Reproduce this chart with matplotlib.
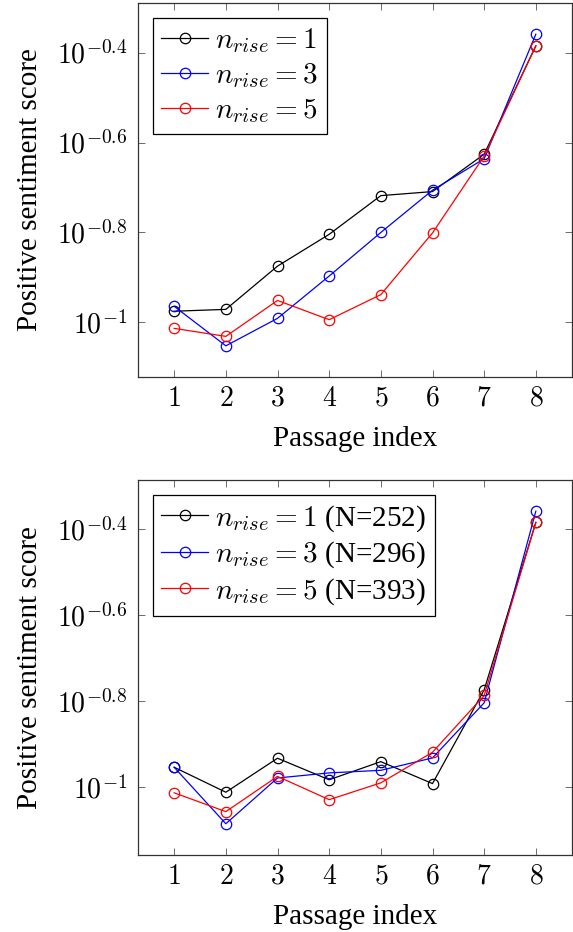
import numpy as np
import matplotlib
matplotlib.use('Agg')
import matplotlib.pyplot as plt
from matplotlib.ticker import FixedLocator, FixedFormatter, NullLocator

plt.rcParams['font.family'] = ['Liberation Serif', 'DejaVu Serif']
plt.rcParams['mathtext.fontset'] = 'cm'

passage = [1, 2, 3, 4, 5, 6, 7, 8]

# top panel
top_rise1 = [0.1059, 0.1069, 0.1334, 0.1570, 0.1914, 0.1954, 0.2366, 0.4121]
top_rise3 = [0.1086, 0.0887, 0.1021, 0.1268, 0.1585, 0.1968, 0.2312, 0.4375]
top_rise5 = [0.0970, 0.0931, 0.1119, 0.1014, 0.1153, 0.1581, 0.2344, 0.4121]

# bottom panel
bot_rise1 = [0.1112, 0.0973, 0.1167, 0.1040, 0.1146, 0.1019, 0.1683, 0.4121]
bot_rise3 = [0.1112, 0.0822, 0.1050, 0.1079, 0.1094, 0.1169, 0.1570, 0.4375]
bot_rise5 = [0.0970, 0.0877, 0.1059, 0.0935, 0.1023, 0.1205, 0.1633, 0.4121]

top_labels = [r'$n_{rise}=1$', r'$n_{rise}=3$', r'$n_{rise}=5$']
bot_labels = [r'$n_{rise}=1$ (N=252)', r'$n_{rise}=3$ (N=296)', r'$n_{rise}=5$ (N=393)']
colors = ['black', 'blue', 'red']

ytick_vals = [10**-1, 10**-0.8, 10**-0.6, 10**-0.4]
ytick_text = [r'$10^{-1}$', r'$10^{-0.8}$', r'$10^{-0.6}$', r'$10^{-0.4}$']

W, H = 573, 932
fig = plt.figure(figsize=(W/100, H/100), dpi=100)
ax1 = fig.add_axes([138/W, 1-377/H, 434/W, 374/H])
ax2 = fig.add_axes([138/W, 1-855/H, 434/W, 375/H])

def draw(ax, series, labels):
    for ys, lab, c in zip(series, labels, colors):
        ax.plot(passage, ys, color=c, lw=0.9, marker='o', ms=7.5,
                mfc='none', mec=c, mew=0.9, label=lab)
    ax.set_yscale('log')
    ax.margins(x=0.1, y=0.1)
    ax.yaxis.set_major_locator(FixedLocator(ytick_vals))
    ax.yaxis.set_major_formatter(FixedFormatter(ytick_text))
    ax.yaxis.set_minor_locator(NullLocator())
    ax.set_xticks(passage)
    ax.set_xticklabels(['$%d$' % p for p in passage])
    ax.tick_params(direction='in', top=True, right=True, length=5,
                   width=0.6, color='#555555', labelsize=20)
    ax.tick_params(axis='x', pad=7)
    ax.tick_params(axis='y', pad=8)
    for s in ax.spines.values():
        s.set_linewidth(0.9)
        s.set_color('#333333')
    ax.set_xlabel('Passage index', fontsize=21, labelpad=10)
    ax.set_ylabel('Positive sentiment score', fontsize=21, labelpad=10)
    leg = ax.legend(loc='upper left', fontsize=21, frameon=True, fancybox=False,
                    edgecolor='black', framealpha=1, borderpad=0.3,
                    labelspacing=0.2, handlelength=1.6, handletextpad=0.25,
                    borderaxespad=0.5)
    leg.get_frame().set_linewidth(0.9)

draw(ax1, [top_rise1, top_rise3, top_rise5], top_labels)
draw(ax2, [bot_rise1, bot_rise3, bot_rise5], bot_labels)

fig.savefig('out.png', dpi=100)
